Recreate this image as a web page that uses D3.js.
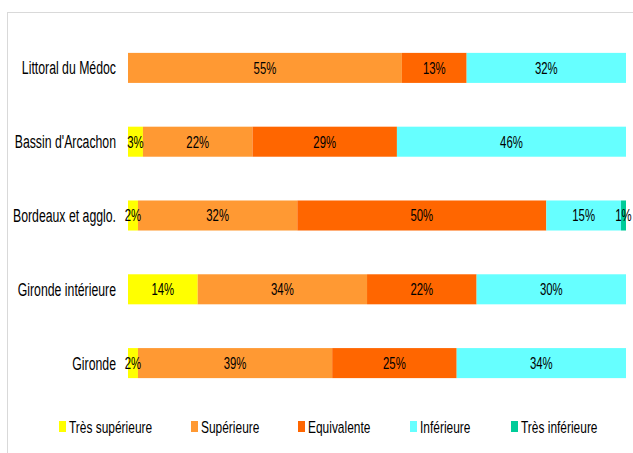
<!DOCTYPE html>
<html>
<head>
<meta charset="utf-8">
<script src="https://cdn.jsdelivr.net/npm/d3@7"></script>
<style>
  html, body { margin: 0; padding: 0; background: #fff; }
  svg { display: block; }
  text { font-family: "Liberation Sans", Arial, sans-serif; fill: #000; }
</style>
</head>
<body>
<svg id="chart" width="633" height="453"></svg>
<script>
const categories = ["Littoral du Médoc", "Bassin d'Arcachon", "Bordeaux et agglo.", "Gironde intérieure", "Gironde"];
const seriesNames = ["Très supérieure", "Supérieure", "Equivalente", "Inférieure", "Très inférieure"];
const tresSuperieure = [0, 3, 2, 14, 2];
const superieure     = [55, 22, 32, 34, 39];
const equivalente    = [13, 29, 50, 22, 25];
const inferieure     = [32, 46, 15, 30, 34];
const tresInferieure = [0, 0, 1, 0, 0];
const seriesValues = [tresSuperieure, superieure, equivalente, inferieure, tresInferieure];
const colors = ["#FFFF00", "#FF9933", "#FF6600", "#66FFFF", "#00CC99"];

const SX = 0.69; // horizontal text compression (condensed look of reference)
const svg = d3.select("#chart");

// chart area border
svg.append("rect")
  .attr("x", 7.5).attr("y", 12.5)
  .attr("width", 700).attr("height", 500)
  .attr("fill", "#fff").attr("stroke", "#d9d9d9").attr("stroke-width", 1);

const x = d3.scaleLinear().domain([0, 100]).range([128, 626]);
const y = d3.scaleBand().domain(categories).range([31, 400]).paddingInner(0.593).paddingOuter(0.2965);

const rows = categories.map((c, i) => {
  const o = { cat: c };
  seriesNames.forEach((s, j) => o[s] = seriesValues[j][i]);
  return o;
});
const stack = d3.stack().keys(seriesNames)(rows);

const g = svg.append("g");
stack.forEach((layer, j) => {
  g.append("g").selectAll("rect").data(layer.filter(d => d[1] - d[0] > 0)).join("rect")
    .attr("x", d => x(d[0]))
    .attr("y", d => y(d.data.cat))
    .attr("width", d => x(d[1]) - x(d[0]))
    .attr("height", y.bandwidth())
    .attr("fill", colors[j]);
});
stack.forEach((layer, j) => {
  g.append("g").selectAll("text").data(layer.filter(d => d[1] - d[0] > 0)).join("text")
    .attr("transform", d => `translate(${x((d[0] + d[1]) / 2)},${y(d.data.cat) + y.bandwidth() / 2}) scale(${SX},1)`)
    .attr("dy", "0.36em")
    .attr("text-anchor", "middle")
    .attr("font-size", 16.5)
    .text(d => (d[1] - d[0]) + "%");
});

// category axis labels
const yAxis = d3.axisLeft(y).tickSize(0).tickPadding(0);
const ya = svg.append("g").attr("transform", `translate(${x(0)},0)`).call(yAxis);
ya.select(".domain").remove();
ya.selectAll("text")
  .attr("x", null)
  .attr("dy", "0.36em")
  .attr("transform", `translate(-12,0) scale(${SX},1)`)
  .attr("font-size", 17.8).attr("font-family", null).style("fill", "#000");

// legend
const legendX = [59, 191, 298, 410, 511];
const leg = svg.append("g").selectAll("g").data(seriesNames).join("g")
  .attr("transform", (d, i) => `translate(${legendX[i]},421)`);
leg.append("rect").attr("width", 7).attr("height", 11).attr("fill", (d, i) => colors[i]);
leg.append("text")
  .attr("transform", `translate(10,5.5) scale(${SX},1)`)
  .attr("dy", "0.36em")
  .attr("font-size", 17.3).text(d => d);
</script>
</body>
</html>
